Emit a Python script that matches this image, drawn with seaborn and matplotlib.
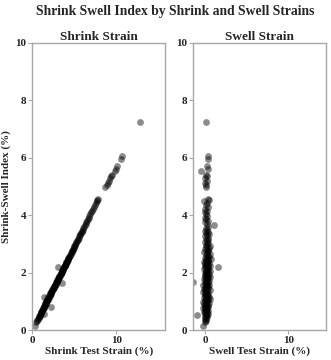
import matplotlib
matplotlib.use("Agg")
import matplotlib.pyplot as plt
import seaborn as sns
import pandas as pd

# Shrink-swell index (%) per sample
shrink_swell_index = [
    0.13, 0.29, 0.33, 0.36, 0.40, 0.42, 0.45, 0.48, 0.50, 0.52,
    0.52, 0.55, 0.57, 0.60, 0.62, 0.64, 0.66, 0.68, 0.70, 0.72,
    0.74, 0.76, 0.78, 0.80, 0.80, 0.82, 0.84, 0.86, 0.88, 0.90,
    0.92, 0.94, 0.96, 0.98, 1.00, 1.02, 1.04, 1.06, 1.08, 1.10,
    1.12, 1.14, 1.16, 1.18, 1.20, 1.22, 1.24, 1.26, 1.28, 1.30,
    1.32, 1.34, 1.36, 1.38, 1.40, 1.42, 1.44, 1.46, 1.48, 1.50,
    1.52, 1.54, 1.56, 1.58, 1.60, 1.62, 1.64, 1.65, 1.66, 1.68,
    1.70, 1.72, 1.74, 1.76, 1.78, 1.80, 1.82, 1.84, 1.86, 1.88,
    1.90, 1.92, 1.94, 1.96, 1.98, 2.00, 2.02, 2.04, 2.06, 2.08,
    2.10, 2.12, 2.14, 2.16, 2.18, 2.20, 2.20, 2.22, 2.24, 2.26,
    2.28, 2.30, 2.32, 2.34, 2.36, 2.38, 2.40, 2.42, 2.44, 2.46,
    2.48, 2.50, 2.53, 2.56, 2.59, 2.62, 2.65, 2.68, 2.71, 2.74,
    2.77, 2.80, 2.83, 2.86, 2.89, 2.92, 2.95, 2.98, 3.02, 3.06,
    3.10, 3.14, 3.18, 3.22, 3.26, 3.30, 3.34, 3.38, 3.42, 3.46,
    3.50, 3.55, 3.60, 3.65, 3.70, 3.75, 3.80, 3.86, 3.92, 3.98,
    4.04, 4.10, 4.15, 4.20, 4.28, 4.35, 4.42, 4.48, 4.52, 4.58,
    4.98, 5.05, 5.12, 5.20, 5.28, 5.35, 5.40, 5.55, 5.62, 5.72,
    5.95, 6.05, 7.25,
]

# Shrink test strain (%) per sample
shrink_strain = [
    0.40, 0.45, 0.55, 0.62, 0.70, 0.78, 0.76, 0.85, 0.90, 0.88,
    0.95, 1.45, 1.00, 1.02, 1.10, 1.08, 1.15, 1.20, 1.18, 1.25,
    1.28, 1.30, 1.38, 2.25, 1.40, 1.45, 1.42, 1.50, 1.55, 1.52,
    1.60, 1.58, 1.65, 1.70, 1.72, 1.70, 1.80, 1.85, 1.82, 1.90,
    1.95, 1.92, 1.45, 2.05, 2.08, 2.10, 2.12, 2.20, 2.18, 2.25,
    2.28, 2.30, 2.38, 2.40, 2.42, 2.45, 2.50, 2.48, 2.58, 2.60,
    2.62, 2.68, 2.70, 2.72, 2.78, 2.80, 2.85, 3.50, 2.88, 2.90,
    2.95, 2.98, 3.00, 3.05, 3.08, 3.12, 3.15, 3.18, 3.22, 3.25,
    3.28, 3.30, 3.38, 3.40, 3.42, 3.45, 3.50, 3.52, 3.55, 3.60,
    3.62, 3.65, 3.70, 3.72, 3.10, 3.80, 3.78, 3.85, 3.88, 3.90,
    3.95, 3.98, 4.00, 4.05, 4.08, 4.10, 4.15, 4.18, 4.22, 4.25,
    4.28, 4.32, 4.38, 4.42, 4.48, 4.52, 4.58, 4.62, 4.68, 4.72,
    4.78, 4.82, 4.88, 4.92, 4.98, 5.02, 5.08, 5.12, 5.20, 5.25,
    5.32, 5.40, 5.45, 5.55, 5.60, 5.68, 5.72, 5.80, 5.88, 5.95,
    6.02, 6.10, 6.18, 6.25, 6.35, 6.42, 6.50, 6.62, 6.70, 6.80,
    6.90, 7.00, 7.10, 7.18, 7.32, 7.45, 7.55, 7.65, 7.72, 7.85,
    8.70, 8.85, 9.00, 9.15, 9.30, 9.35, 9.45, 9.90, 9.95, 10.05,
    10.50, 10.70, 12.80,
]

# Swell test strain (%) per sample
swell_strain = [
    -0.30, 0.05, 0.10, 0.00, 0.15, 0.05, 0.20, -0.05, 0.10, 0.25,
    -1.00, 0.10, 0.30, 0.00, -0.10, 0.20, 0.05, 0.35, 0.15, -0.05,
    0.25, 0.10, -0.20, 0.05, 0.40, 0.00, 0.20, 0.10, 0.30, -0.15,
    0.05, 0.45, 0.15, -0.25, 0.20, 0.10, 0.00, 0.30, 0.55, 0.10,
    -0.10, 0.25, 0.50, 0.05, 0.35, -0.05, 0.15, 0.20, 0.00, 0.40,
    0.10, -0.30, 0.25, 0.05, 0.60, 0.15, -0.10, 0.30, 0.00, 0.20,
    0.35, 0.10, -0.20, 0.45, 0.05, 0.25, 0.15, 0.10, -1.40, 0.30,
    0.00, 0.50, 0.20, 0.10, -0.15, 0.40, 0.25, 0.05, 0.65, 0.15,
    0.30, -0.05, 0.20, 0.45, 0.10, 0.00, 0.35, 0.15, 0.55, 0.25,
    0.10, 0.40, -0.10, 0.20, 0.05, 1.50, 0.30, 0.15, 0.60, 0.00,
    0.35, 0.20, 0.50, 0.05, 0.25, -0.15, 0.40, 0.10, 0.30, 0.70,
    0.15, 0.00, 0.45, 0.20, 0.35, 0.10, 0.55, 0.25, -0.10, 0.40,
    0.20, 0.30, 0.05, 0.45, 0.15, 0.60, 0.25, 0.10, 0.35, 0.00,
    0.20, 0.40, 0.10, 0.30, -0.05, 0.25, 0.50, 0.15, 0.35, 0.05,
    0.25, 0.10, 0.40, 1.10, 0.20, 0.05, 0.30, 0.15, 0.00, 0.25,
    0.10, 0.05, 0.20, 0.00, 0.35, 0.15, 0.25, -0.10, 0.45, 0.30,
    0.10, 0.15, 0.05, 0.20, 0.00, 0.25, 0.10, -0.45, 0.30, 0.20,
    0.35, 0.35, 0.10,
]

panel_titles = ["Shrink Strain", "Swell Strain"]
x_labels = ["Shrink Test Strain (%)", "Swell Test Strain (%)"]
y_label = "Shrink-Swell Index (%)"
suptitle = "Shrink Swell Index by Shrink and Swell Strains"

df = pd.DataFrame({
    "index": shrink_swell_index,
    "shrink": shrink_strain,
    "swell": swell_strain,
})

sns.set_theme(style="white")
plt.rcParams["font.family"] = ["Liberation Serif", "DejaVu Serif"]
plt.rcParams["font.weight"] = "bold"

fig = plt.figure(figsize=(3.31, 3.60), dpi=100)
ax1 = fig.add_axes([0.097, 0.083, 0.402, 0.798])
ax2 = fig.add_axes([0.583, 0.083, 0.402, 0.798])

spine_color = "#a8a8a8"
for ax, xcol, title, xl, xlim in zip(
        [ax1, ax2], ["shrink", "swell"], panel_titles, x_labels,
        [(0, 15.8), (-1.45, 14.5)]):
    sns.scatterplot(data=df, x=xcol, y="index", ax=ax, color="black",
                    alpha=0.45, s=24, linewidth=0)
    ax.set_xlim(*xlim)
    ax.set_ylim(0, 10)
    ax.set_xticks([0, 10])
    ax.set_yticks([0, 2, 4, 6, 8, 10])
    ax.set_title(title, fontsize=9.5, fontweight="bold", pad=2)
    ax.set_xlabel(xl, fontsize=8, fontweight="bold", labelpad=1)
    ax.set_ylabel("")
    for sp in ax.spines.values():
        sp.set_color(spine_color)
        sp.set_linewidth(1.0)
    ax.tick_params(axis="both", which="major", length=3, width=0.8,
                   color=spine_color, labelsize=8, pad=1,
                   bottom=True, left=True)
    for lab in ax.get_xticklabels() + ax.get_yticklabels():
        lab.set_fontweight("bold")

ax1.set_ylabel(y_label, fontsize=8, fontweight="bold", labelpad=3)
fig.suptitle(suptitle, fontsize=9.8, fontweight="bold", x=0.53, y=0.985)

fig.savefig("out.png", dpi=100)
